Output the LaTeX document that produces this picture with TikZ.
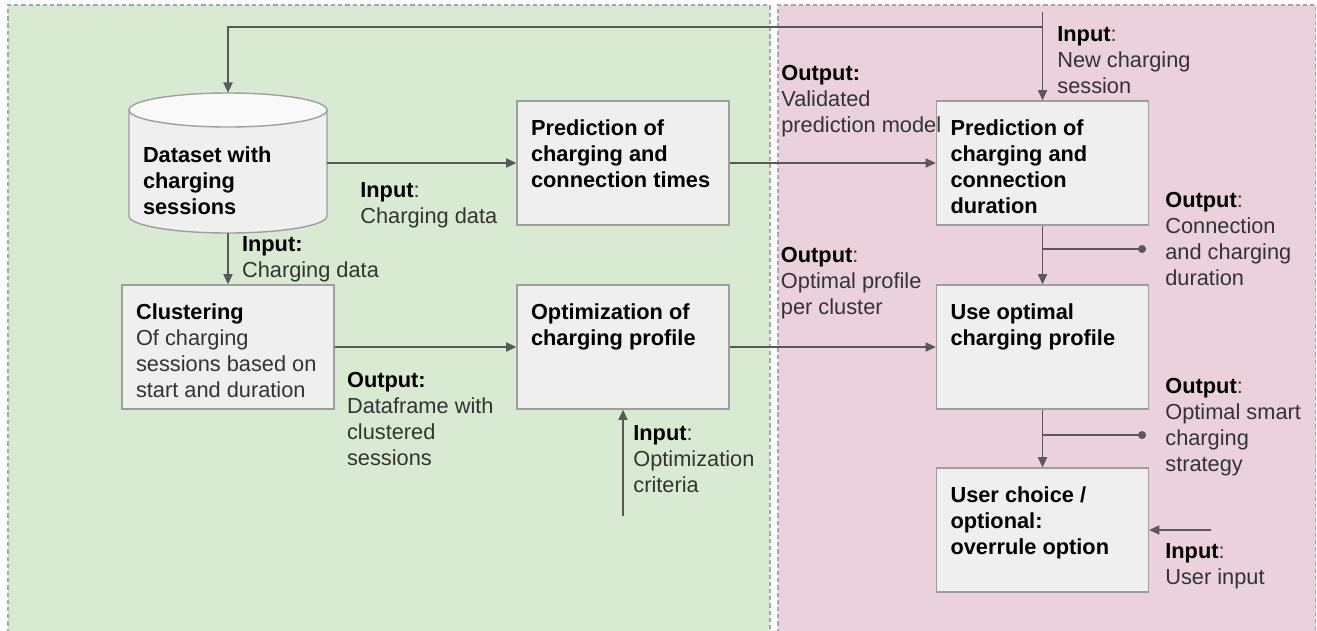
\documentclass[tikz,border=0pt]{standalone}
\usepackage{fontspec}
\setmainfont{Liberation Sans}
\usetikzlibrary{arrows.meta}
\definecolor{zoneGreen}{HTML}{D9EAD3}
\definecolor{zonePink}{HTML}{EAD1DC}
\definecolor{boxFill}{HTML}{EFEFEF}
\definecolor{boxLine}{HTML}{9E9E9E}
\definecolor{flowGray}{HTML}{595959}
\definecolor{noteText}{HTML}{333333}
\newcommand{\stagebody}[1]{\parbox[t][1.72cm][t]{3.68cm}{\raggedright #1}}
\newcommand{\notehead}[1]{\textbf{\color{black}#1}}

\begin{document}
\begin{tikzpicture}[x=0.02cm, y=-0.02cm,
    every node/.style={font=\fontsize{12.4}{14.75}\selectfont},
    zone/.style={draw=gray!70, dash pattern=on 2.4pt off 1.7pt, line width=0.6pt},
    stage/.style={draw=boxLine, fill=boxFill, line width=0.8pt, inner xsep=0.28cm, inner ysep=0.38cm, font=\fontsize{12.4}{14.75}\selectfont\bfseries},
    store/.style={inner xsep=0.28cm, inner ysep=0pt, font=\fontsize{12.4}{14.75}\selectfont\bfseries},
    note/.style={anchor=north west, inner sep=0pt, align=left, text=noteText},
    flow/.style={draw=flowGray, line width=0.85pt, -{Triangle[length=5.8pt, width=5.2pt]}},
    tap/.style={draw=flowGray, line width=0.85pt, -{Circle[length=4.5pt]}}
]
    \useasboundingbox[fill=white] (0,0) rectangle (1317,630);

    % Zone di sfondo
    \fill[zoneGreen] (8,5) rectangle (770,640);
    \draw[zone] (8,640) -- (8,5) -- (770,5) -- (770,640);
    \fill[zonePink] (778,5) rectangle (1315.5,640);
    \draw[zone] (778,640) -- (778,5) -- (1315.5,5) -- (1315.5,640);

    % Cilindro del dataset
    \draw[draw=boxLine, fill=boxFill, line width=0.8pt] (129,110) -- (129,216)
        arc[start angle=180, end angle=360, x radius=1.98cm, y radius=0.34cm] -- (327,110);
    \draw[draw=boxLine, fill=boxFill!40!white, line width=0.8pt] (228,110) ellipse[x radius=1.98cm, y radius=0.34cm];
    \node[store] (data) at (228,163) {\parbox[t][2.8cm][t]{3.4cm}{\raggedright\vspace*{1.08cm}Dataset with\\charging\\sessions}};

    % Blocchi
    \node[stage] (pred1) at (623,163) {\stagebody{Prediction of\\charging and\\connection times}};
    \node[stage] (pred2) at (1042.5,163) {\stagebody{Prediction of\\charging and\\connection\\duration}};
    \node[stage] (clus) at (228,347) {\stagebody{Clustering\\\mdseries\color{noteText}Of charging\\sessions based on\\start and duration}};
    \node[stage] (opt) at (623,347) {\stagebody{Optimization of\\charging profile}};
    \node[stage] (use) at (1042.5,347) {\stagebody{Use optimal\\charging profile}};
    \node[stage] (user) at (1042.5,530) {\stagebody{User choice /\\optional:\\overrule option}};

    % Etichette
    \node[note] (lblNew) at (1057,26) {\notehead{Input}:\\New charging\\session};
    \node[note] (lblValid) at (781,65) {\notehead{Output:}\\Validated\\prediction model};
    \node[note] (lblData1) at (360,182) {\notehead{Input}:\\Charging data};
    \node[note] (lblData2) at (241.7,236) {\notehead{Input:}\\Charging data};
    \node[note] (lblFrame) at (346.7,371.7) {\notehead{Output:}\\Dataframe with\\clustered\\sessions};
    \node[note] (lblCrit) at (633,425) {\notehead{Input}:\\Optimization\\criteria};
    \node[note] (lblProfile) at (780.6,246.7) {\notehead{Output}:\\Optimal profile\\per cluster};
    \node[note] (lblDur) at (1165,191.7) {\notehead{Output}:\\Connection\\and charging\\duration};
    \node[note] (lblStrat) at (1165,378.3) {\notehead{Output}:\\Optimal smart\\charging\\strategy};
    \node[note] (lblUser) at (1165,543.3) {\notehead{Input}:\\User input};

    % Collegamenti
    \coordinate (newIn) at (1042.5,12);
    \coordinate (feedback) at (1042.5,27);
    \coordinate (durSplit) at (1042.5,249);
    \coordinate (durOut) at (1146,249);
    \coordinate (stratSplit) at (1042.5,435);
    \coordinate (stratOut) at (1146,435);
    \coordinate (critIn) at (623,516);
    \coordinate (userIn) at (1211,530);

    \draw[flow] (newIn) -- (pred2.north);
    \draw[flow] (feedback) -| (data.north);
    \draw[flow] (data.east) -- (pred1.west);
    \draw[flow] (pred1.east) -- (pred2.west);
    \draw[flow] (data.south) -- (clus.north);
    \draw[flow] (clus.east) -- (opt.west);
    \draw[flow] (opt.east) -- (use.west);
    \draw[flow] (critIn) -- (opt.south);
    \draw[flow] (pred2.south) -- (use.north);
    \draw[tap] (durSplit) -- (durOut);
    \draw[flow] (use.south) -- (user.north);
    \draw[tap] (stratSplit) -- (stratOut);
    \draw[flow] (userIn) -- (user.east);
\end{tikzpicture}
\end{document}
